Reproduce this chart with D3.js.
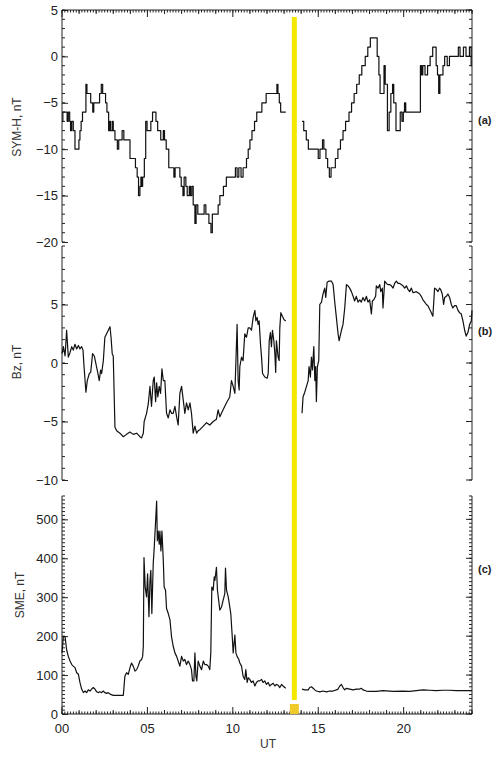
<!DOCTYPE html>
<head>
<meta charset="utf-8">
<title>SYM-H, Bz, SME</title>
<style>
  body { margin: 0; background: #fff; }
  svg text { font-family: "Liberation Sans", Arial, sans-serif; }
  .trace { fill: none; stroke: #111; stroke-width: 1.2; stroke-linejoin: round; }
  .ax path, .ax line { stroke: #222; stroke-width: 1; }
  .ax text { font-size: 13px; fill: #222; }
</style>
</head>
<body>
<svg width="500" height="757"></svg>
<script src="https://d3js.org/d3.v7.min.js"></script>
<script>

// ---- data (hours UT; null = data gap) ----
var symhHour = [0.00,0.05,0.30,0.37,0.45,0.50,0.57,0.66,0.76,0.99,1.05,1.12,1.20,1.40,1.46,1.68,1.80,1.86,2.20,2.30,2.38,2.55,2.63,2.73,2.80,2.85,2.95,3.00,3.10,3.24,3.32,3.52,3.62,3.98,4.30,4.40,4.48,4.56,4.62,4.66,4.72,4.82,4.90,4.98,5.20,5.30,5.50,5.60,5.78,5.93,6.00,6.10,6.25,6.55,6.62,6.90,6.98,7.08,7.15,7.25,7.33,7.45,7.52,7.60,7.68,7.78,7.85,7.95,8.32,8.42,8.60,8.72,8.80,9.14,9.24,9.45,9.62,10.15,10.25,10.35,10.48,10.60,10.80,10.90,11.00,11.12,11.27,11.40,11.70,11.95,12.58,12.64,12.72,12.80,13.10,
  13.5,
  14.05,14.15,14.30,14.42,15.00,15.10,15.25,15.33,15.45,15.55,15.65,15.75,16.00,16.15,16.30,16.45,16.60,16.80,16.95,17.10,17.25,17.40,17.55,17.75,17.90,18.05,18.45,18.55,18.62,18.85,18.92,19.05,19.15,19.25,19.35,19.42,19.55,19.80,19.90,19.98,20.05,20.12,20.98,21.05,21.12,21.25,21.40,21.55,21.70,21.90,21.98,22.05,22.12,22.30,22.40,22.55,22.68,23.20,23.30,23.50,23.65,23.85,23.95,24.00];
var symhValue = [-7,-6,-7,-6,-7,-8,-7,-8,-10,-9,-8,-7,-6,-3,-4,-5,-6,-5,-4,-3,-4,-5,-6,-8,-7,-8,-7,-8,-9,-10,-9,-8,-9,-11,-12,-13,-15,-14,-13,-14,-13,-11,-7,-8,-7,-6,-7,-8,-9,-8,-9,-10,-12,-13,-12,-13,-14,-15,-13,-14,-15,-14,-15,-14,-16,-18,-16,-17,-16,-17,-18,-19,-17,-16,-15,-14,-13,-12,-13,-12,-13,-12,-11,-10,-9,-8,-7,-6,-5,-4,-3,-4,-5,-6,-6,
  null,
  -7,-8,-9,-10,-11,-10,-9,-10,-11,-12,-13,-12,-11,-10,-9,-8,-7,-6,-5,-4,-3,-2,-1,0,1,2,0,-2,-4,-1,-3,-8,-6,-4,-3,-5,-8,-6,-7,-6,-5,-6,-1,-2,-1,-2,-1,0,1,-1,-2,-4,-2,-1,0,-1,0,1,0,1,0,1,-1,-1];

var bzHour = [0.00,0.08,0.18,0.27,0.37,0.47,0.57,0.66,0.76,0.86,0.96,1.05,1.15,1.23,1.29,1.40,1.48,1.60,1.68,1.79,1.89,1.99,2.09,2.18,2.26,2.32,2.42,2.51,2.61,2.71,2.81,2.87,2.94,3.00,3.10,3.20,3.39,3.59,3.78,3.98,4.17,4.37,4.56,4.66,4.76,4.81,4.95,5.05,5.15,5.24,5.34,5.40,5.48,5.54,5.61,5.69,5.77,5.85,5.93,6.02,6.12,6.22,6.32,6.41,6.51,6.61,6.71,6.80,6.90,7.00,7.10,7.19,7.29,7.39,7.49,7.58,7.68,7.78,7.88,7.97,8.07,8.27,8.46,8.65,8.85,9.04,9.14,9.24,9.43,9.63,9.82,9.92,10.02,10.12,10.25,10.31,10.37,10.41,10.51,10.60,10.70,10.80,10.90,10.99,11.09,11.19,11.29,11.35,11.42,11.48,11.54,11.62,11.68,11.74,11.87,12.01,12.07,12.13,12.20,12.26,12.32,12.40,12.46,12.51,12.55,12.65,12.71,12.75,12.81,12.90,13.00,13.10,
  13.5,
  14.05,14.11,14.21,14.31,14.41,14.46,14.54,14.60,14.66,14.74,14.80,14.85,14.89,14.95,15.03,15.09,15.19,15.28,15.38,15.44,15.52,15.63,15.77,15.87,15.96,16.06,16.16,16.22,16.36,16.45,16.55,16.65,16.74,16.84,16.94,17.04,17.13,17.23,17.33,17.43,17.52,17.62,17.72,17.82,17.91,18.01,18.11,18.17,18.25,18.36,18.40,18.50,18.60,18.66,18.75,18.79,18.89,18.99,19.08,19.18,19.28,19.38,19.47,19.57,19.67,19.77,19.86,19.96,20.06,20.16,20.25,20.35,20.45,20.55,20.74,20.84,20.94,21.03,21.13,21.23,21.33,21.42,21.52,21.62,21.71,21.81,21.91,22.01,22.10,22.16,22.26,22.34,22.40,22.50,22.59,22.69,22.79,22.88,22.98,23.08,23.18,23.27,23.37,23.47,23.57,23.66,23.76,23.86,23.96,24.00];
var bzValue = [0.8,1.4,0.6,2.8,0.5,0.9,1.4,1.1,1.6,1.2,1.5,1.2,1.4,1.1,-0.3,-2.5,-1.5,-0.9,-0.8,0.8,0.6,-0.1,-0.8,-1.5,-0.6,-0.9,0.2,2.2,2.5,2.8,3.1,2.2,0.8,0.6,-5.5,-5.8,-6.0,-6.3,-6.1,-5.9,-6.1,-6.0,-6.3,-6.4,-6.0,-5.0,-4.3,-3.5,-2.0,-3.7,-1.5,-1.2,-3.3,-1.7,-2.9,-2.0,-2.6,-0.5,-1.5,-1.5,-4.3,-4.7,-4.0,-4.3,-4.3,-3.7,-4.6,-5.3,-2.6,-2.0,-3.2,-4.3,-3.4,-4.0,-3.4,-4.3,-6.0,-5.4,-6.0,-5.8,-5.7,-5.4,-5.1,-5.3,-5.0,-4.8,-4.0,-4.6,-4.0,-3.4,-2.9,-1.5,-2.0,-2.6,3.3,-1.5,-2.3,-0.3,0.5,0.2,2.5,2.2,3.0,3.0,2.8,3.9,4.5,3.6,3.9,3.3,3.6,1.6,0.5,-0.9,-1.2,-1.3,-0.9,1.9,2.6,1.4,2.8,1.9,0.8,-0.8,1.9,0.5,0.2,3.0,4.3,4.0,3.7,3.6,
  null,
  -4.3,-2.9,-2.5,-2.0,-1.5,-0.3,-1.2,0.5,-0.6,1.4,-1.5,-0.3,-3.3,-0.3,0.2,5.0,5.2,5.9,6.4,5.6,6.9,7.0,7.0,6.7,5.3,3.9,2.5,1.9,2.8,3.3,4.7,6.7,6.6,6.4,6.1,5.7,5.3,5.7,5.2,5.4,5.2,5.6,5.3,5.7,5.2,5.4,4.2,5.3,5.4,5.7,6.6,6.4,6.7,6.1,6.4,4.7,7.0,6.8,6.7,6.7,6.6,6.4,6.8,7.0,6.8,6.8,6.7,6.6,6.4,6.6,6.3,6.1,6.4,6.0,6.1,6.0,5.9,5.7,5.4,5.2,5.0,4.9,4.6,4.3,4.0,6.4,6.3,6.1,6.4,6.3,5.9,5.0,5.6,5.7,5.9,5.6,5.0,4.7,4.9,4.9,4.5,4.3,4.2,3.6,2.8,2.3,2.6,3.3,3.6,4.5];

var smeHour = [0.00,0.08,0.18,0.27,0.37,0.47,0.57,0.66,0.76,0.86,0.96,1.05,1.15,1.25,1.35,1.44,1.54,1.64,1.73,1.83,1.93,2.03,2.12,2.22,2.32,2.42,2.51,2.61,2.71,2.81,3.00,3.20,3.39,3.59,3.68,3.78,3.88,3.98,4.07,4.17,4.27,4.37,4.46,4.56,4.66,4.72,4.76,4.80,4.87,4.95,5.01,5.09,5.15,5.20,5.26,5.34,5.40,5.48,5.54,5.58,5.63,5.69,5.73,5.79,5.85,5.93,5.98,6.06,6.12,6.22,6.32,6.41,6.51,6.61,6.71,6.80,6.90,7.00,7.10,7.19,7.29,7.39,7.49,7.58,7.64,7.72,7.78,7.84,7.89,7.97,8.07,8.17,8.27,8.36,8.46,8.56,8.65,8.71,8.77,8.85,8.91,8.95,9.04,9.10,9.24,9.34,9.43,9.53,9.57,9.63,9.73,9.82,9.88,9.96,10.02,10.12,10.18,10.25,10.35,10.41,10.51,10.60,10.70,10.76,10.84,10.90,10.99,11.09,11.19,11.29,11.38,11.48,11.58,11.68,11.77,11.87,11.97,12.07,12.16,12.26,12.36,12.46,12.55,12.65,12.75,12.85,12.94,13.04,13.10,
  13.5,
  14.05,14.21,14.41,14.50,14.60,14.70,14.80,14.89,15.09,15.28,15.48,15.67,15.87,16.06,16.16,16.26,16.36,16.45,16.55,16.65,16.84,17.04,17.23,17.43,17.52,17.62,17.82,18.01,18.40,18.79,19.38,19.96,20.35,20.74,21.13,21.52,21.91,22.30,22.69,23.08,23.47,24.00];
var smeValue = [157,199,199,165,148,136,127,123,119,106,102,81,64,55,59,55,62,59,64,68,64,57,55,57,55,59,55,53,55,51,48,48,48,48,97,106,102,119,131,123,110,114,123,136,140,148,174,402,326,301,360,250,343,369,258,386,428,496,547,445,470,436,470,419,470,394,326,318,271,258,242,199,174,157,148,136,123,148,136,140,127,136,127,114,85,85,157,97,85,136,123,114,136,127,127,123,114,157,326,318,352,343,377,318,267,275,292,309,375,318,301,275,258,203,157,203,157,148,140,131,123,97,89,114,81,93,89,81,85,72,81,85,85,89,81,85,76,81,72,76,79,72,76,74,68,76,72,68,66,
  null,
  64,62,62,68,70,66,62,59,57,59,57,59,59,62,64,72,76,68,62,66,64,62,64,64,66,62,59,58,58,60,58,59,58,60,62,61,60,61,61,60,60,60];

var hourTicks = [0, 5, 10, 15, 20];
var hourLabels = ["00", "05", "10", "15", "20"];
var symhTicks = [5, 0, -5, -10, -15, -20];
var bzTicks = [5, 0, -5, -10];
var smeTicks = [0, 100, 200, 300, 400, 500];
var markerHour = 13.6;   // yellow vertical marker

// ---- scales ----
var svg = d3.select("svg");
var x = d3.scaleLinear().domain([0, 24]).range([62, 472]);

var ya = d3.scaleLinear().domain([-20, 5]).range([242, 10]);
var yb = d3.scaleLinear().domain([-10, 10]).range([480, 246]);
var yc = d3.scaleLinear().domain([0, 560]).range([714, 496]);

var minorHours = d3.range(0, 24.001, 1 / 6);
var wholeHours = d3.range(0, 25, 1);

// vertical axes helper: left labelled axis + right unlabelled axis, ticks inward
function yAxes(y, major, minor, lo, hi) {
    var left = svg.append("g").attr("class", "ax").attr("transform", "translate(" + x(0) + ",0)");
    left.call(d3.axisLeft(y).tickValues(major).tickSize(-6).tickSizeOuter(0).tickPadding(4)
        .tickFormat(d => d < 0 ? "\u2212" + Math.abs(d) : d));
    left.call(g => g.select(".domain").remove());
    left.append("line").attr("y1", y(lo)).attr("y2", y(hi));
    left.selectAll(".minor").data(minor).enter().append("line")
        .attr("class", "minor").attr("x2", 3).attr("y1", d => y(d)).attr("y2", d => y(d));

    var right = svg.append("g").attr("class", "ax").attr("transform", "translate(" + x(24) + ",0)");
    right.append("line").attr("y1", y(lo)).attr("y2", y(hi));
    right.selectAll(".major").data(major).enter().append("line")
        .attr("x2", -6).attr("y1", d => y(d)).attr("y2", d => y(d));
    right.selectAll(".minor").data(minor).enter().append("line")
        .attr("x2", -3).attr("y1", d => y(d)).attr("y2", d => y(d));
}

// horizontal time axis ticks (dir = 1 : ticks downward, -1 : upward)
function timeTicks(yPos, dir) {
    var g = svg.append("g").attr("class", "ax");
    g.append("line").attr("x1", x(0)).attr("x2", x(24)).attr("y1", yPos).attr("y2", yPos);
    g.selectAll(".mn").data(minorHours).enter().append("line")
        .attr("x1", d => x(d)).attr("x2", d => x(d))
        .attr("y1", yPos).attr("y2", yPos + dir * 2.5);
    g.selectAll(".hr").data(wholeHours).enter().append("line")
        .attr("x1", d => x(d)).attr("x2", d => x(d))
        .attr("y1", yPos).attr("y2", d => yPos + dir * (d % 5 === 0 ? 7 : 4));
    return g;
}

// ---- panel (a) SYM-H ----
yAxes(ya, symhTicks, d3.range(-20, 5.01, 1), -20, 5);
timeTicks(ya(5), 1);

// ---- panel (b) Bz ----
yAxes(yb, bzTicks, d3.range(-10, 10.01, 1), -10, 10);

// ---- panel (c) SME ----
yAxes(yc, smeTicks, d3.range(0, 560.1, 10), 0, 560);
var bottom = timeTicks(yc(0), -1);
bottom.selectAll(".lbl").data(hourTicks).enter().append("text")
    .attr("x", d => x(d)).attr("y", yc(0) + 19)
    .attr("text-anchor", "middle")
    .text((d, i) => hourLabels[i]);

// ---- traces ----
function pts(h, v) { return h.map((d, i) => [d, v[i]]); }

svg.append("path").attr("class", "trace")
    .attr("d", d3.line().defined(d => d[1] !== null)
        .curve(d3.curveStepAfter).x(d => x(d[0])).y(d => ya(d[1]))(pts(symhHour, symhValue)));

svg.append("path").attr("class", "trace")
    .attr("d", d3.line().defined(d => d[1] !== null)
        .x(d => x(d[0])).y(d => yb(d[1]))(pts(bzHour, bzValue)));

svg.append("path").attr("class", "trace")
    .attr("d", d3.line().defined(d => d[1] !== null)
        .x(d => x(d[0])).y(d => yc(d[1]))(pts(smeHour, smeValue)));

// ---- yellow marker ----
svg.append("rect")
    .attr("x", x(markerHour) - 2.5).attr("width", 5)
    .attr("y", 17).attr("height", 683)
    .attr("fill", "#f5e800");
svg.append("rect")
    .attr("x", x(markerHour) - 4.5).attr("width", 9)
    .attr("y", 704).attr("height", 10)
    .attr("fill", "#f0c92a");

// ---- titles ----
var titles = [
    {t: "SYM-H, nT", x: 17, y: 127},
    {t: "Bz, nT", x: 17, y: 362},
    {t: "SME, nT", x: 20, y: 595}
];
svg.selectAll(".ytitle").data(titles).enter().append("text")
    .attr("transform", d => "translate(" + d.x + "," + d.y + ") rotate(-90)")
    .attr("text-anchor", "middle").attr("dy", "0.35em")
    .attr("font-size", 12).attr("fill", "#333")
    .text(d => d.t);

svg.append("text").attr("x", 268).attr("y", 748)
    .attr("text-anchor", "middle").attr("font-size", 12).attr("fill", "#333").text("UT");

var tags = [{t: "(a)", y: 120}, {t: "(b)", y: 331}, {t: "(c)", y: 569}];
svg.selectAll(".tag").data(tags).enter().append("text")
    .attr("x", 478).attr("y", d => d.y).attr("dy", "0.35em")
    .attr("font-size", 11).attr("font-weight", "bold").attr("fill", "#222")
    .attr("font-family", "Calibri, 'Liberation Sans', sans-serif")
    .text(d => d.t);

</script>
</body>
